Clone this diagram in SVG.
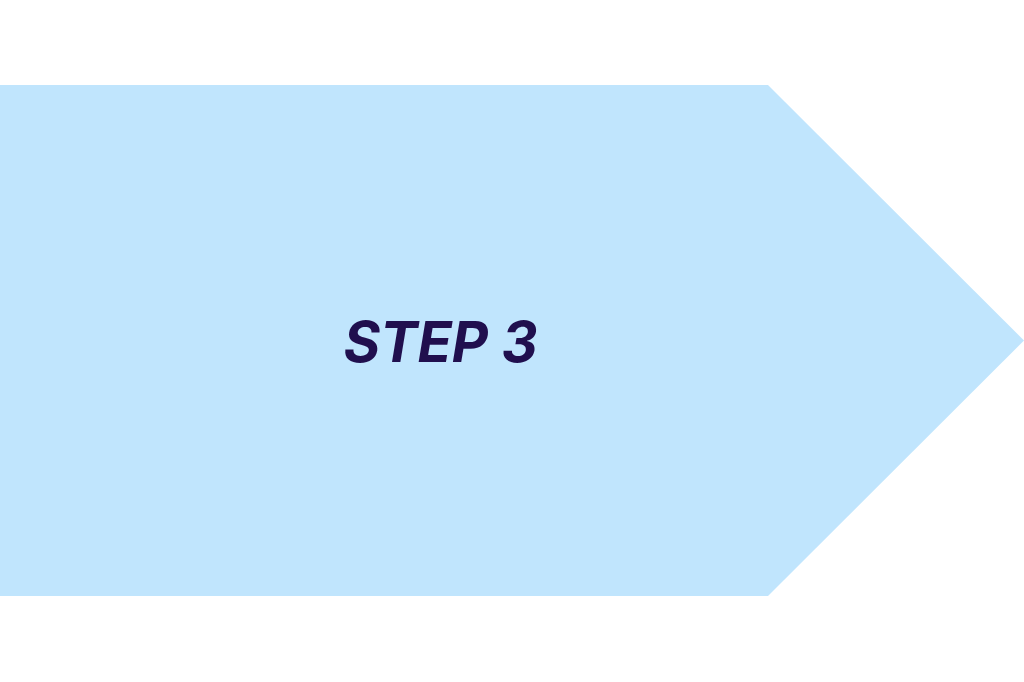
<svg xmlns="http://www.w3.org/2000/svg" width="1024" height="682" viewBox="0 0 1024 682">
<style>
.shape{fill:#c0e5fd}
.lbl{font-family:Inter,Roboto,"Liberation Sans",sans-serif;font-style:italic;font-weight:700;font-size:56px;fill:#200f4e}
</style>
<rect width="1024" height="682" fill="#ffffff"/>
<g id="step3">
<polygon class="shape" points="0,85 768,85 1024,340.5 768,596 0,596"/>
<text class="lbl" x="440.5" y="361.5" text-anchor="middle">STEP 3</text>
</g>
<g id="connectors"/>
</svg>
